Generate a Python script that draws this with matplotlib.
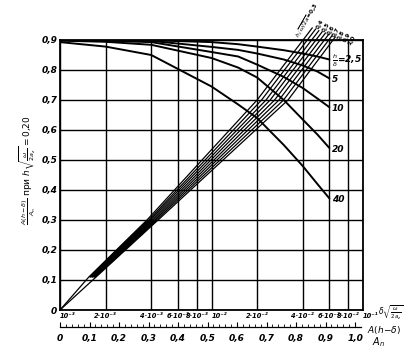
import matplotlib
matplotlib.use('Agg')
import matplotlib.pyplot as plt
from matplotlib.ticker import FixedLocator, NullLocator, FixedFormatter

# descending curves, parameter h/delta
curve_x = [1e-3, 2e-3, 4e-3, 1e-2, 1.5e-2, 2e-2, 3e-2, 4e-2, 5e-2, 6e-2]
curve_25 = [0.900, 0.900, 0.899, 0.893, 0.886, 0.878, 0.866, 0.855, 0.845, 0.835]
curve_5 = [0.900, 0.899, 0.897, 0.877, 0.867, 0.855, 0.835, 0.815, 0.795, 0.772]
curve_10 = [0.899, 0.897, 0.893, 0.860, 0.845, 0.818, 0.777, 0.740, 0.705, 0.676]
curve_20 = [0.898, 0.894, 0.884, 0.840, 0.808, 0.775, 0.700, 0.635, 0.585, 0.540]
curve_40 = [0.893, 0.878, 0.850, 0.745, 0.685, 0.640, 0.550, 0.480, 0.420, 0.372]
curve_labels = [r'$\frac{h}{\delta}$=2,5', '5', '10', '20', '40']

# rising lines, parameter h*sqrt(w/2a)
rise_y = [0.0, 0.11, 0.3, 0.7, 0.9]
rise_x_011 = [1.55e-3, 1.58e-3, 1.60e-3, 1.63e-3, 1.65e-3, 1.68e-3, 1.70e-3, 1.73e-3]
rise_x_03 = [3.75e-3, 3.85e-3, 3.93e-3, 4.03e-3, 4.13e-3, 4.23e-3, 4.33e-3, 4.44e-3]
rise_x_07 = [2.00e-2, 2.14e-2, 2.29e-2, 2.44e-2, 2.61e-2, 2.79e-2, 2.99e-2, 3.20e-2]
rise_x_09 = [4.02e-2, 4.29e-2, 4.58e-2, 4.89e-2, 5.21e-2, 5.56e-2, 5.94e-2, 6.34e-2]
rise_end_x = [4.62e-2, 4.86e-2, 5.11e-2, 5.37e-2, 5.65e-2, 5.94e-2, 6.24e-2, 6.56e-2]
rise_end_y = [0.940, 0.936, 0.931, 0.927, 0.923, 0.919, 0.914, 0.910]
rise_labels = [r'$h\sqrt{\omega/2a}$=0,3', '0,4', '0,5', '0,6', '0,7', '0,8', '0,9', '1,0']

# axis ticks
x_ticks = [1e-3, 2e-3, 4e-3, 6e-3, 8e-3, 1e-2, 2e-2, 4e-2, 6e-2, 8e-2, 1e-1]
x_labels = ['10⁻³', '2·10⁻³', '4·10⁻³', '6·10⁻³', '8·10⁻³', '10⁻²',
            '2·10⁻²', '4·10⁻²', '6·10⁻²', '8·10⁻²', '10⁻¹']
y_ticks = [0, 0.1, 0.2, 0.3, 0.4, 0.5, 0.6, 0.7, 0.8, 0.9]
y_labels = ['0', '0,1', '0,2', '0,3', '0,4', '0,5', '0,6', '0,7', '0,8', '0,9']
an_ticks = [0, 0.1, 0.2, 0.3, 0.4, 0.5, 0.6, 0.7, 0.8, 0.9, 1.0]
an_labels = ['0', '0,1', '0,2', '0,3', '0,4', '0,5', '0,6', '0,7', '0,8', '0,9', '1,0']

W, H = 419, 363
fig = plt.figure(figsize=(W / 100, H / 100), dpi=100)
ax = fig.add_axes([60 / W, 1 - 310 / H, 303 / W, 270 / H])
ax.set_xscale('log')
ax.set_xlim(1e-3, 1e-1)
ax.set_ylim(0, 0.9)
ax.xaxis.set_major_locator(FixedLocator(x_ticks))
ax.xaxis.set_minor_locator(NullLocator())
ax.xaxis.set_major_formatter(FixedFormatter(x_labels))
ax.set_yticks(y_ticks)
ax.set_yticklabels(y_labels)
ax.tick_params(length=0, pad=2)
for lab in ax.get_yticklabels():
    lab.set_fontsize(6.5)
    lab.set_fontweight('bold')
    lab.set_fontstyle('italic')
xlabs = ax.get_xticklabels()
for lab in xlabs:
    lab.set_fontsize(4.8)
    lab.set_fontweight('bold')
    lab.set_fontstyle('italic')
for k in (0, 5, 10):
    xlabs[k].set_horizontalalignment('left')
ax.grid(True, color='black', lw=1.0)
for s in ax.spines.values():
    s.set_linewidth(1.3)

for ys, lab in zip([curve_25, curve_5, curve_10, curve_20, curve_40], curve_labels):
    ax.plot(curve_x, ys, color='black', lw=1.4, solid_capstyle='round')
    ax.text(curve_x[-1] * 1.04, ys[-1] - 0.005, lab, fontsize=6.5, fontweight='bold',
            fontstyle='italic', ha='left', va='center')

for i in range(len(rise_x_03)):
    xs = [rise_x_011[i], rise_x_03[i], rise_x_07[i], rise_x_09[i], rise_end_x[i]]
    ys = rise_y[1:] + [rise_end_y[i]]
    if i in (0, len(rise_x_03) - 1):
        xs = [x_ticks[0]] + xs
        ys = [rise_y[0]] + ys
    ax.plot(xs, ys, color='black', lw=0.9, clip_on=False)
    off = (-7, -9) if i == 0 else (2 + 1.4 * i, -0.9 * i)
    ax.annotate(rise_labels[i], xy=(rise_end_x[i], rise_end_y[i]), xytext=off,
                textcoords='offset points', rotation=60, fontsize=4.2,
                fontweight='bold', ha='left', va='bottom',
                rotation_mode='anchor', annotation_clip=False)

ax.fill([rise_x_011[0], rise_x_03[0], rise_x_03[-1], rise_x_011[-1]],
        [rise_y[1], rise_y[2], rise_y[2], rise_y[1]], color='black', lw=0)

# lower linear scale A(h-d)/A_n
ax2 = fig.add_axes([60 / W, 1 - 327 / H, 301 / W, 0.001])
ax2.set_xlim(0, 1.02)
ax2.set_ylim(0, 1)
ax2.patch.set_visible(False)
for k in ('top', 'left', 'right'):
    ax2.spines[k].set_visible(False)
ax2.spines['bottom'].set_linewidth(0.9)
ax2.set_yticks([])
ax2.set_xticks(an_ticks)
ax2.set_xticklabels(an_labels)
ax2.set_xticks([i * 0.02 for i in range(51)], minor=True)
ax2.tick_params(axis='x', which='major', direction='in', length=3.5, width=0.8, pad=5)
ax2.tick_params(axis='x', which='minor', direction='in', length=2, width=0.6)
for lab in ax2.get_xticklabels():
    lab.set_fontsize(6.5)
    lab.set_fontweight('bold')
    lab.set_fontstyle('italic')

fig.text(378 / W, 1 - 313 / H, r'$\delta\sqrt{\frac{\omega}{2a_z}}$', fontsize=5.5,
         ha='left', va='center')
fig.text(367 / W, 1 - 330 / H, r'$A(h\!-\!\delta)$', fontsize=6.5, ha='left', va='center')
fig.text(372 / W, 1 - 342 / H, r'$A_n$', fontsize=7, ha='left', va='center')

fig.text(28 / W, 1 - 170 / H,
         r'$\frac{A(h-\delta)}{A_n}$ при $h\sqrt{\frac{\omega}{2a_z}}=0{,}20$',
         rotation=90, fontsize=6.5, ha='center', va='center')

fig.savefig('out.png', dpi=100)
